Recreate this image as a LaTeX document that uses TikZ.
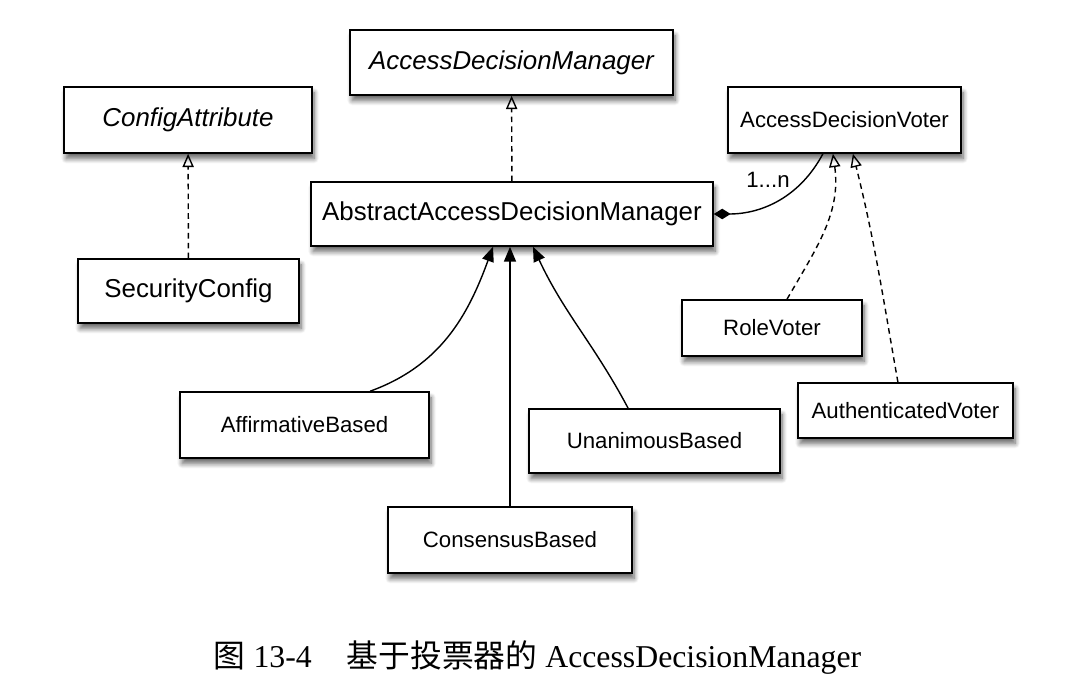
\documentclass[tikz,border=0pt]{standalone}
\usepackage{fontspec}
\setmainfont{Liberation Serif}
\setsansfont{Liberation Sans}
\newfontfamily\cjk{Noto Sans CJK SC}
\usetikzlibrary{arrows.meta,shadows.blur}
\pgfdeclarelayer{bg}
\pgfsetlayers{bg,main}
\tikzset{
    umlbox/.style={rectangle, draw, line width=1.1pt, fill=white, inner sep=0mm,
        font=\sffamily\fontsize{15.8}{18}\selectfont,
        blur shadow={shadow xshift=1.5pt, shadow yshift=-4pt, shadow blur steps=8,
            shadow blur radius=3.5pt, shadow opacity=60}}
}
\tikzset{bigbox/.style={umlbox, font=\sffamily\fontsize{18.4}{22}\selectfont}}
\tikzset{
    realize/.style={dash pattern=on 4pt off 3pt, line width=1pt,
        -{Triangle[open, width=8pt, length=9.5pt, line width=1pt]}},
    inherit/.style={line width=1pt, -{Triangle[width=8.5pt, length=10.5pt]}},
    compose/.style={line width=1pt, {Diamond[width=7.5pt, length=12pt]}-}
}

\begin{document}
\begin{tikzpicture}
        \useasboundingbox (0cm, 0cm) rectangle (26.8cm, 17.425cm);
        \node (adm) [bigbox, minimum width=8.075cm, minimum height=1.625cm] at (12.788cm, 15.863cm) {\itshape AccessDecisionManager};
        \node (cfgattr) [bigbox, minimum width=6.2cm, minimum height=1.65cm] at (4.700cm, 14.425cm) {\itshape ConfigAttribute};
        \node (seccfg) [bigbox, minimum width=5.525cm, minimum height=1.6cm] at (4.713cm, 10.150cm) {SecurityConfig};
        \node (absadm) [bigbox, minimum width=10.05cm, minimum height=1.6cm] at (12.800cm, 12.075cm) {AbstractAccessDecisionManager};
        \node (voter) [umlbox, minimum width=5.825cm, minimum height=1.65cm] at (21.113cm, 14.425cm) {AccessDecisionVoter};
        \node (rolevoter) [umlbox, minimum width=4.5cm, minimum height=1.4cm] at (19.300cm, 9.225cm) {RoleVoter};
        \node (authvoter) [umlbox, minimum width=5.375cm, minimum height=1.375cm] at (22.638cm, 7.163cm) {AuthenticatedVoter};
        \node (affirm) [umlbox, minimum width=6.225cm, minimum height=1.65cm] at (7.613cm, 6.800cm) {AffirmativeBased};
        \node (unanim) [umlbox, minimum width=6.275cm, minimum height=1.6cm] at (16.363cm, 6.400cm) {UnanimousBased};
        \node (consensus) [umlbox, minimum width=6.1cm, minimum height=1.65cm] at (12.750cm, 3.925cm) {ConsensusBased};
        \node (card) [font=\sffamily\fontsize{15.8}{18}\selectfont] at (19.200cm, 12.925cm) {1...n};
        \node (caption) [font=\fontsize{22.6}{26}\selectfont] at (13.438cm, 0.975cm) {{\cjk 图} 13-4\hspace{1.1em}{\cjk 基于投票器的} AccessDecisionManager};
        \begin{pgfonlayer}{bg}
                \draw (seccfg) edge [realize] (cfgattr);
                \draw (absadm) edge [realize] (adm);
                \draw ([xshift=1.64cm]affirm.north) edge [inherit, out=20, in=-110] ([xshift=-0.475cm]absadm.south);
                \draw (consensus.north) edge [inherit] (consensus.north |- absadm.south);
                \draw ([xshift=-0.66cm]unanim.north) edge [inherit, out=118, in=-65] ([xshift=0.525cm]absadm.south);
                \draw (absadm.east) edge [compose, out=0, in=-118] ([xshift=-0.54cm]voter.south);
                \draw ([xshift=0.375cm]rolevoter.north) edge [realize, out=60, in=-82] ([xshift=-0.29cm]voter.south);
                \draw ([xshift=-0.19cm]authvoter.north) edge [realize, out=100, in=-76] ([xshift=0.21cm]voter.south);
        \end{pgfonlayer}
\end{tikzpicture}
\end{document}
